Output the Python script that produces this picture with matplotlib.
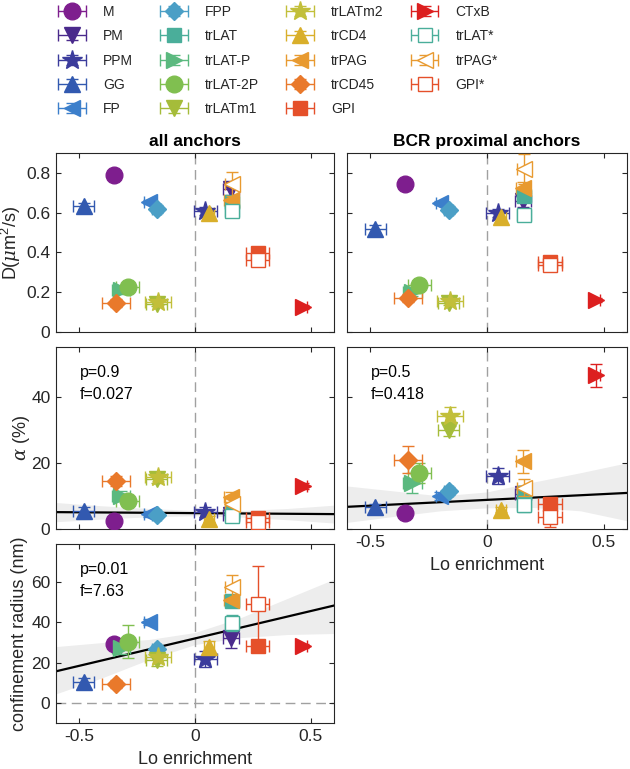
import numpy as np
import matplotlib
matplotlib.use('Agg')
import matplotlib.pyplot as plt
from matplotlib.legend_handler import HandlerErrorbar
from matplotlib.container import ErrorbarContainer

plt.rcParams['font.family'] = ['Liberation Sans', 'DejaVu Sans']
plt.rcParams['mathtext.fontset'] = 'custom'
plt.rcParams['mathtext.rm'] = 'Liberation Sans'
plt.rcParams['mathtext.it'] = 'DejaVu Serif:italic'

# ---------------- data ----------------
names = ['M', 'PM', 'PPM', 'GG', 'FP', 'FPP', 'trLAT', 'trLAT-P', 'trLAT-2P',
         'trLATm1', 'trLATm2', 'trCD4', 'trPAG', 'trCD45', 'GPI', 'CTxB',
         'trLAT*', 'trPAG*', 'GPI*']
colors = ['#7E1E8E', '#4A2A8C', '#3B3C9C', '#3259B0', '#3C7FCB', '#4B9FC6',
          '#4AAE9A', '#5BB97F', '#80BF50', '#A5BC3A', '#C2BF3A', '#D9AF2B',
          '#E89A30', '#E9792B', '#E5502A', '#DC1F1F', '#4AAE9A', '#E89A30',
          '#E5502A']
markers = ['o', 'v', '*', '^', '<', 'D', 's', '>', 'o', 'v', '*', '^', '<',
           'D', 's', '>', 's', '<', 's']
filled = [True] * 16 + [False] * 3

# Lo enrichment (x) with error
lo = [-0.35, 0.155, 0.045, -0.48, -0.20, -0.165, 0.16, -0.32, -0.29,
      -0.165, -0.16, 0.06, 0.155, -0.34, 0.27, 0.465, 0.16, 0.16, 0.27]
lo_err = [0.01, 0.035, 0.05, 0.045, 0.02, 0.02, 0.03, 0.04, 0.05,
          0.045, 0.055, 0.02, 0.03, 0.06, 0.05, 0.02, 0.03, 0.03, 0.05]

# D (um^2/s), all anchors
d_all = [0.79, 0.72, 0.61, 0.635, 0.655, 0.62, 0.655, 0.21, 0.225,
         0.14, 0.15, 0.60, 0.665, 0.145, 0.395, 0.125, 0.61, 0.745, 0.36]
d_all_err = [0.01, 0.03, 0.02, 0.015, 0.01, 0.02, 0.02, 0.02, 0.02,
             0.01, 0.015, 0.015, 0.02, 0.02, 0.015, 0.01, 0.025, 0.06, 0.02]
# D, BCR proximal anchors
d_bcr = [0.745, 0.66, 0.60, 0.52, 0.65, 0.615, 0.685, 0.20, 0.235,
         0.145, 0.155, 0.58, 0.725, 0.17, 0.35, 0.16, 0.59, 0.82, 0.335]
d_bcr_err = [0.01, 0.03, 0.02, 0.02, 0.01, 0.02, 0.025, 0.02, 0.02,
             0.01, 0.015, 0.03, 0.03, 0.02, 0.02, 0.01, 0.03, 0.075, 0.015]

# alpha (%)
a_all = [2.5, 4.2, 5.0, 5.5, 4.5, 4.2, 5.0, 10.0, 8.5,
         15.0, 15.8, 3.0, 9.8, 14.5, 3.2, 13.0, 4.0, 7.5, 2.0]
a_all_err = [0.5, 1.0, 1.5, 1.2, 0.8, 0.8, 1.5, 1.5, 1.5,
             1.0, 1.2, 1.0, 1.5, 1.5, 1.0, 1.0, 1.5, 2.0, 1.0]
a_bcr = [4.8, 10.5, 16.0, 6.7, 10.0, 11.5, 11.0, 14.0, 17.0,
         30.0, 34.0, 5.8, 20.5, 21.0, 7.5, 46.5, 7.2, 12.5, 3.5]
a_bcr_err = [0.5, 1.5, 2.5, 1.0, 1.2, 1.2, 2.0, 3.0, 3.0,
             2.0, 3.0, 0.8, 3.5, 4.0, 1.5, 3.5, 2.0, 2.5, 3.0]

# confinement radius (nm)
rad = [29.5, 32.5, 22.0, 10.5, 40.0, 27.0, 50.5, 27.5, 30.5,
       21.5, 23.0, 28.0, 51.0, 9.5, 28.5, 28.5, 39.5, 57.5, 49.0]
rad_err = [2.0, 5.0, 4.0, 2.0, 1.5, 2.0, 2.0, 3.0, 8.0,
           3.0, 3.0, 3.0, 2.0, 2.0, 2.0, 1.0, 4.0, 6.0, 19.0]

# regression lines (value at x = -0.6 and x = 0.6) and confidence bands
fit_x = [-0.6, 0.6]
fit_a_all = [5.1, 4.5]
fit_a_bcr = [6.7, 10.9]
fit_rad = [15.7, 48.4]
band_x = [-0.6, -0.4, -0.2, 0.0, 0.2, 0.4, 0.6]
band_a_all_lo = [2.2, 3.0, 3.7, 4.0, 3.6, 2.8, 1.8]
band_a_all_hi = [8.0, 7.0, 6.2, 5.6, 5.6, 6.2, 7.2]
band_a_bcr_lo = [2.0, 3.8, 5.5, 6.4, 6.5, 5.5, 2.5]
band_a_bcr_hi = [13.0, 11.5, 10.0, 11.2, 14.2, 17.0, 20.0]
band_rad_lo = [4.5, 12.5, 21.5, 29.0, 32.5, 34.0, 34.5]
band_rad_hi = [28.0, 30.0, 31.5, 35.0, 42.5, 52.0, 61.5]

stats_a_all = 'p=0.9\nf=0.027'
stats_a_bcr = 'p=0.5\nf=0.418'
stats_rad = 'p=0.01\nf=7.63'

# ---------------- layout ----------------
W, H = 630, 769
fig = plt.figure(figsize=(W / 100, H / 100), dpi=100)


def add_ax(x0, x1, y0, y1):
    return fig.add_axes([x0 / W, 1 - y1 / H, (x1 - x0) / W, (y1 - y0) / H])


ax_d_all = add_ax(56, 334, 153, 332)
ax_d_bcr = add_ax(347, 627, 153, 332)
ax_a_all = add_ax(56, 334, 347, 529)
ax_a_bcr = add_ax(347, 627, 347, 529)
ax_r = add_ax(56, 334, 544, 723)

msizes = {'o': 12, 'v': 12, '^': 12, '<': 12, '>': 12, 's': 10.5, 'D': 9, '*': 15}
edge = '#262626'
TICK_FS = 12.5
LABEL_FS = 13


def scatter_panel(ax, y, yerr):
    handles = []
    for i in range(len(names)):
        c = colors[i]
        h = ax.errorbar(lo[i], y[i], xerr=lo_err[i], yerr=yerr[i], fmt=markers[i],
                        color=c, ecolor=c, elinewidth=1.0, capsize=4.5, capthick=1.0,
                        ms=msizes[markers[i]], mec=c,
                        mfc=c if filled[i] else 'white', mew=1.0, zorder=3 + i * 0.01)
        handles.append(h)
    return handles


def style(ax, ylim, yticks, yticklabels=None, xlabels=False):
    ax.set_xlim(-0.6, 0.6)
    ax.set_ylim(*ylim)
    ax.set_xticks([-0.5, 0, 0.5])
    if xlabels:
        ax.set_xticklabels(['-0.5', '0', '0.5'])
    else:
        ax.set_xticklabels([])
    ax.set_yticks(yticks)
    if yticklabels is None:
        ax.set_yticklabels([])
    else:
        ax.set_yticklabels(yticklabels)
    ax.tick_params(direction='in', length=3.5, width=0.8, top=True, right=True,
                   labelsize=TICK_FS, colors=edge, pad=4)
    for s in ax.spines.values():
        s.set_color(edge)
        s.set_linewidth(0.8)
    ax.axvline(0, color='#a0a0a0', lw=1.0, ls=(0, (7, 4)), zorder=1)


def fit_panel(ax, fit, blo, bhi, txt):
    ax.fill_between(band_x, blo, bhi, color='#ededed', lw=0, zorder=0.5)
    ax.plot(fit_x, fit, color='black', lw=1.6, zorder=2)
    ax.text(0.086, 0.9, txt, transform=ax.transAxes, ha='left', va='top',
            fontsize=11.5, linespacing=1.6, color='black')


handles = scatter_panel(ax_d_all, d_all, d_all_err)
scatter_panel(ax_d_bcr, d_bcr, d_bcr_err)
scatter_panel(ax_a_all, a_all, a_all_err)
scatter_panel(ax_a_bcr, a_bcr, a_bcr_err)
scatter_panel(ax_r, rad, rad_err)

style(ax_d_all, (0, 0.9), [0, 0.2, 0.4, 0.6, 0.8], ['0', '0.2', '0.4', '0.6', '0.8'])
style(ax_d_bcr, (0, 0.9), [0, 0.2, 0.4, 0.6, 0.8])
style(ax_a_all, (0, 55), [0, 20, 40], ['0', '20', '40'])
style(ax_a_bcr, (0, 55), [0, 20, 40], xlabels=True)
style(ax_r, (-10, 79), [0, 20, 40, 60], ['0', '20', '40', '60'], xlabels=True)
ax_r.axhline(0, color='#a0a0a0', lw=1.0, ls=(0, (7, 4)), zorder=1)

fit_panel(ax_a_all, fit_a_all, band_a_all_lo, band_a_all_hi, stats_a_all)
fit_panel(ax_a_bcr, fit_a_bcr, band_a_bcr_lo, band_a_bcr_hi, stats_a_bcr)
fit_panel(ax_r, fit_rad, band_rad_lo, band_rad_hi, stats_rad)

ax_d_all.set_title('all anchors', fontsize=12.5, fontweight='bold', pad=5)
ax_d_bcr.set_title('BCR proximal anchors', fontsize=12.5, fontweight='bold', pad=5)

ax_d_all.set_ylabel(r'D($\mu$m$^2$/s)', fontsize=LABEL_FS, color=edge)
ax_a_all.set_ylabel(r'$\alpha$ (%)', fontsize=LABEL_FS, color=edge)
ax_r.set_ylabel('confinement radius (nm)', fontsize=LABEL_FS, color=edge)
ax_d_all.yaxis.set_label_coords(-0.12, 0.5)
ax_a_all.yaxis.set_label_coords(-0.085, 0.5)
ax_r.yaxis.set_label_coords(-0.10, 0.5)

ax_a_bcr.set_xlabel('Lo enrichment', fontsize=LABEL_FS, color=edge, labelpad=5)
ax_r.set_xlabel('Lo enrichment', fontsize=LABEL_FS, color=edge, labelpad=5)

leg = fig.legend(handles, names, ncol=4, loc='upper left',
                 bbox_to_anchor=(57 / W, 1 - 5 / H), frameon=False, fontsize=10,
                 handlelength=2.16, handletextpad=1.15, columnspacing=1.87,
                 labelspacing=0.74, borderpad=0, borderaxespad=0, numpoints=1,
                 handler_map={ErrorbarContainer: HandlerErrorbar(xerr_size=1.0,
                                                                 yerr_size=0.35)})
for t in leg.get_texts():
    t.set_color(edge)

fig.savefig('out.png', dpi=100)
